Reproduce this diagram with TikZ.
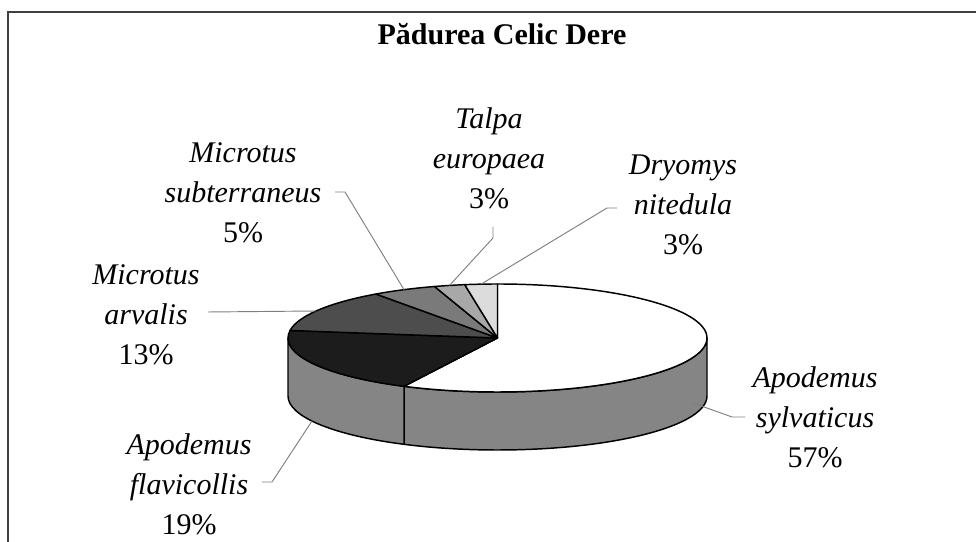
\documentclass[tikz,border=0pt]{standalone}
\usepackage{fontspec}
\setmainfont{Liberation Serif}
\usetikzlibrary{calc}
\definecolor{sidegray}{HTML}{858585}
\definecolor{flavtop}{HTML}{1C1C1C}
\definecolor{arvtop}{HTML}{4D4D4D}
\definecolor{subtop}{HTML}{7A7A7A}
\definecolor{taltop}{HTML}{A8A8A8}
\definecolor{drytop}{HTML}{DCDCDC}
\definecolor{leadgray}{HTML}{7F7F7F}
\definecolor{framegray}{HTML}{404040}
\begin{document}
\begin{tikzpicture}[x=0.75pt,y=0.75pt,
  lbl/.style={font=\fontsize{22.5}{30}\selectfont, anchor=base, inner sep=0pt},
  ttl/.style={font=\fontsize{22.5}{30}\selectfont\bfseries, anchor=base, inner sep=0pt},
  leader/.style={draw=leadgray, line width=0.7pt},
  pieedge/.style={draw=black, line width=1.1pt, line join=round},
  framestyle/.style={draw=framegray, line width=1.2pt}]
\useasboundingbox (0,0) rectangle (976,542);
% frame
\coordinate (fTL) at (8,530);
\coordinate (fBL) at (8,0);
\coordinate (fTR) at (976,530);
\draw[framestyle] (fBL) -- (fTL) -- (fTR);
% title
\node[ttl] (title) at (502,497) {Pădurea Celic Dere};
% pie
\coordinate (C) at (497.5,204);
% side faces
\path[pieedge,fill=sidegray] ($(C)+(-116.5:209.5 and 54)$)
  arc[start angle=-116.5,end angle=0,x radius=209.5,y radius=54] -- ++(0,-58)
  arc[start angle=0,end angle=-116.5,x radius=209.5,y radius=54] -- cycle;
\path[pieedge,fill=sidegray] ($(C)+(180:209.5 and 54)$)
  arc[start angle=180,end angle=243.5,x radius=209.5,y radius=54] -- ++(0,-58)
  arc[start angle=243.5,end angle=180,x radius=209.5,y radius=54] -- cycle;
% top slices
\path[pieedge,fill=white] (C) -- ++(90:209.5 and 54)
  arc[start angle=90,end angle=-116.5,x radius=209.5,y radius=54] -- cycle;
\path[pieedge,fill=flavtop] (C) -- ++(243.5:209.5 and 54)
  arc[start angle=243.5,end angle=172,x radius=209.5,y radius=54] -- cycle;
\path[pieedge,fill=arvtop] (C) -- ++(172:209.5 and 54)
  arc[start angle=172,end angle=125.5,x radius=209.5,y radius=54] -- cycle;
\path[pieedge,fill=subtop] (C) -- ++(125.5:209.5 and 54)
  arc[start angle=125.5,end angle=107.5,x radius=209.5,y radius=54] -- cycle;
\path[pieedge,fill=taltop] (C) -- ++(107.5:209.5 and 54)
  arc[start angle=107.5,end angle=99,x radius=209.5,y radius=54] -- cycle;
\path[pieedge,fill=drytop] (C) -- ++(99:209.5 and 54)
  arc[start angle=99,end angle=90,x radius=209.5,y radius=54] -- cycle;
% labels
\node[lbl] (sylv) at (815,74) {\begin{tabular}[b]{@{}c@{}}\itshape Apodemus\\\itshape sylvaticus\\57\%\end{tabular}};
\node[lbl] (flav) at (189,7) {\begin{tabular}[b]{@{}c@{}}\itshape Apodemus\\\itshape flavicollis\\19\%\end{tabular}};
\node[lbl] (arv) at (146,177) {\begin{tabular}[b]{@{}c@{}}\itshape Microtus\\\itshape arvalis\\13\%\end{tabular}};
\node[lbl] (subt) at (243,299) {\begin{tabular}[b]{@{}c@{}}\itshape Microtus\\\itshape subterraneus\\5\%\end{tabular}};
\node[lbl] (talpa) at (489,333) {\begin{tabular}[b]{@{}c@{}}\itshape Talpa\\\itshape europaea\\3\%\end{tabular}};
\node[lbl] (dry) at (683,287) {\begin{tabular}[b]{@{}c@{}}\itshape Dryomys\\\itshape nitedula\\3\%\end{tabular}};
% leader points
\coordinate (sylvA) at (745,125); \coordinate (sylvB) at (732,125); \coordinate (sylvC) at (693,139);
\coordinate (flavA) at (262,60); \coordinate (flavB) at (272,60); \coordinate (flavC) at (312,121);
\coordinate (arvA) at (208,230); \coordinate (arvC) at ($(C)+(150:209.5 and 54)$);
\coordinate (subA) at (335,350); \coordinate (subB) at (345,350); \coordinate (subC) at ($(C)+(116.5:209.5 and 54)$);
\coordinate (talA) at (493,315); \coordinate (talB) at (493,304); \coordinate (talC) at ($(C)+(103.25:209.5 and 54)$);
\coordinate (dryA) at (617,334); \coordinate (dryB) at (607,334); \coordinate (dryC) at ($(C)+(94.5:209.5 and 54)$);
% leaders
\draw[leader] (sylvA) -- (sylvB) -- (sylvC);
\draw[leader] (flavA) -- (flavB) -- (flavC);
\draw[leader] (arvA) -- (arvC);
\draw[leader] (subA) -- (subB) -- (subC);
\draw[leader] (talA) -- (talB) -- (talC);
\draw[leader] (dryA) -- (dryB) -- (dryC);
\end{tikzpicture}
\end{document}
